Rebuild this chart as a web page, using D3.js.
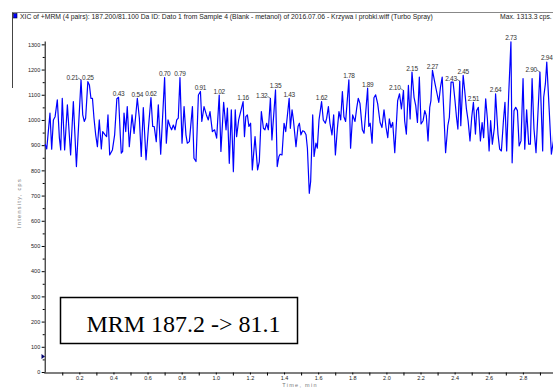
<!DOCTYPE html>
<html><head><meta charset="utf-8">
<script src="https://cdn.jsdelivr.net/npm/d3@7"></script>
<style>body{margin:0;background:#fff}svg{display:block}</style>
</head><body><svg id="c" width="553" height="388"></svg>
<script>
const titleText = "XIC of +MRM (4 pairs): 187.200/81.100 Da ID: Dato 1 from Sample 4 (Blank - metanol) of 2016.07.06 - Krzywa i probki.wiff (Turbo Spray)";
const maxText = "Max. 1313.3 cps.";
const boxText = "MRM 187.2 -> 81.1";
const yTitle = "Intensity, cps";
const xTitle = "Time, min";

const times = [
0.000,0.009,0.028,0.038,0.048,0.058,0.071,0.083,0.091,0.100,0.114,0.130,0.140,0.149,0.165,0.183,
0.21,0.220,0.229,0.237,0.25,0.259,0.268,0.277,0.286,0.296,0.306,0.317,0.329,0.337,0.351,0.360,
0.368,0.378,0.394,0.407,0.420,0.43,0.440,0.446,0.454,0.462,0.472,0.481,0.493,0.509,0.521,0.54,
0.552,0.563,0.575,0.591,0.605,0.62,0.630,0.639,0.651,0.663,0.677,0.70,0.710,0.720,0.732,0.741,
0.751,0.761,0.771,0.780,0.79,0.802,0.814,0.825,0.833,0.845,0.863,0.872,0.884,0.898,0.91,0.918,
0.931,0.945,0.956,0.966,0.980,0.993,1.005,1.02,1.030,1.046,1.060,1.068,1.079,1.091,1.103,1.114,
1.122,1.134,1.16,1.168,1.176,1.185,1.194,1.204,1.214,1.230,1.245,1.255,1.267,1.279,1.288,1.298,
1.308,1.32,1.329,1.35,1.360,1.370,1.377,1.388,1.400,1.410,1.43,1.437,1.447,1.455,1.470,1.482,
1.490,1.499,1.509,1.519,1.529,1.537,1.548,1.556,1.568,1.576,1.587,1.595,1.605,1.62,1.630,1.642,
1.650,1.660,1.669,1.681,1.691,1.701,1.712,1.722,1.732,1.742,1.751,1.761,1.78,1.790,1.802,1.816,
1.826,1.835,1.845,1.859,1.869,1.89,1.897,1.905,1.916,1.927,1.937,1.949,1.963,1.974,1.986,1.998,
2.008,2.017,2.027,2.037,2.049,2.066,2.077,2.088,2.10,2.107,2.117,2.129,2.139,2.15,2.162,2.172,
2.182,2.193,2.203,2.215,2.225,2.234,2.244,2.254,2.261,2.27,2.287,2.297,2.307,2.317,2.327,2.337,
2.347,2.360,2.369,2.379,2.391,2.402,2.411,2.419,2.43,2.436,2.45,2.459,2.469,2.479,2.490,2.500,
2.51,2.522,2.529,2.539,2.551,2.561,2.570,2.582,2.592,2.602,2.611,2.621,2.633,2.64,2.654,2.664,
2.674,2.686,2.695,2.705,2.717,2.73,2.737,2.748,2.758,2.768,2.778,2.789,2.801,2.811,2.822,2.834,
2.844,2.854,2.865,2.877,2.90,2.908,2.916,2.922,2.932,2.94,2.955,2.967,2.979,2.985,3.000
];
const intensities = [
904,885,1027,884,1000,1013,1080,930,881,1086,881,1060,954,861,1073,815,
1159,1020,994,1007,1152,1139,1086,1086,1007,941,894,1000,885,954,941,934,
1020,861,881,941,1084,1090,941,868,875,1027,954,1053,894,1020,947,1086,
1007,855,1049,842,967,1089,974,974,914,1060,864,1168,908,1000,974,961,
980,961,1000,1007,1168,908,1053,941,908,914,1053,848,835,1099,1113,994,
1053,1020,1000,1033,954,961,928,1099,875,1070,961,1047,828,1040,795,1040,
934,1000,1073,934,1013,1020,974,987,802,934,802,835,1033,967,961,987,
961,1086,921,1119,815,855,864,861,987,954,1086,967,1040,1000,894,974,
987,941,957,954,941,888,709,756,1020,855,908,888,1000,1073,1000,987,
1007,1053,987,941,1020,861,961,1033,1000,1113,1013,994,1159,888,1020,994,
1047,1086,1066,961,947,1126,974,987,908,1088,1100,1064,990,970,1040,970,
930,1004,970,990,870,1077,1104,1044,1117,997,944,1137,1004,1190,1090,1057,
990,1170,984,997,1037,1017,917,1050,1077,1197,1137,1104,1070,1130,1170,1024,
870,977,1010,1150,1150,1077,1010,964,1154,977,1177,1117,1044,997,917,1010,
1070,944,1037,1050,917,990,930,1084,1004,877,997,904,970,1104,944,884,
877,997,1070,877,1104,1310,830,1037,1050,1037,897,917,1164,884,1040,904,
904,1164,964,870,1190,1037,877,1090,1144,1230,1030,864,917,1097,1000
];
const peakLabels = ["0.21","0.25","0.43","0.54","0.62","0.70","0.79","0.91","1.02","1.16","1.32","1.35","1.43","1.62","1.78","1.89","2.10","2.15","2.27","2.43","2.45","2.51","2.64","2.73","2.90","2.94"];
const leaderLabels = ["0.21","1.32","2.10","2.43","2.90"];
const yTickValues = [0,100,200,300,400,500,600,700,800,900,1000,1100,1200,1300];
const yMinorValues = [50,150,250,350,450,550,650,750,850,950,1050,1150,1250];
const xTickLabels = ["0.2","0.4","0.6","0.8","1.0","1.2","1.4","1.6","1.8","2.0","2.2","2.4","2.6","2.8"];
const xMinorLabels = ["0.1","0.3","0.5","0.7","0.9","1.1","1.3","1.5","1.7","1.9","2.1","2.3","2.5","2.7","2.9"];

const data = times.map((t,i)=>({t, v:intensities[i]}));
const svg = d3.select("#c");
const sans = "'Liberation Sans', Arial, sans-serif";
const x = d3.scaleLinear().domain([0,3]).range([45.2,557]);
const y = d3.scaleLinear().domain([0,1313.3]).range([372,41]);

// header
svg.append("line").attr("x1",12).attr("x2",553).attr("y1",12.5).attr("y2",12.5).attr("stroke","#888").attr("stroke-width",1);
svg.append("line").attr("x1",12.5).attr("x2",12.5).attr("y1",12.5).attr("y2",88).attr("stroke","#444").attr("stroke-width",1);
svg.append("rect").attr("x",13.5).attr("y",13.5).attr("width",3.5).attr("height",4.5).attr("fill","#0000ff").attr("stroke","#000033").attr("stroke-width",0.6);
svg.append("text").attr("x",20).attr("y",19).attr("font-family",sans).attr("font-size",6.8).attr("fill","#222").text(titleText);
svg.append("text").attr("x",500).attr("y",19).attr("font-family",sans).attr("font-size",6.8).attr("fill","#222").text(maxText);

// axes
const yAxis = svg.append("g").attr("transform","translate(44.7,0)")
  .call(d3.axisLeft(y).tickValues(yTickValues).tickSize(3).tickSizeOuter(0).tickPadding(1.5).tickFormat(d3.format("d")));
yAxis.select(".domain").attr("stroke","#000").attr("stroke-width",1);
yAxis.selectAll("text").attr("font-family",sans).attr("font-size",5.5).attr("fill","#222");
svg.append("g").attr("transform","translate(44.7,0)")
  .call(d3.axisLeft(y).tickValues(yMinorValues).tickSize(2).tickFormat(""))
  .select(".domain").remove();

const xAxis = svg.append("g").attr("transform","translate(0,372.5)")
  .call(d3.axisBottom(x).tickValues(xTickLabels.map(Number)).tickSize(2).tickSizeOuter(0).tickPadding(2).tickFormat((d,i)=>xTickLabels[i]));
xAxis.select(".domain").attr("stroke","#000").attr("stroke-width",1.2).attr("d","M44.2,0.5H553");
xAxis.selectAll("text").attr("font-family",sans).attr("font-size",5.5).attr("fill","#222");
svg.append("g").attr("transform","translate(0,372.5)")
  .call(d3.axisBottom(x).tickValues(xMinorLabels.map(Number)).tickSize(3).tickFormat(""))
  .select(".domain").remove();

svg.append("text").attr("transform","translate(21,203) rotate(-90)").attr("text-anchor","middle")
  .attr("font-family",sans).attr("font-size",5.5).attr("letter-spacing",1.3).attr("fill","#777").text(yTitle);
svg.append("text").attr("x",300).attr("y",387).attr("text-anchor","middle")
  .attr("font-family",sans).attr("font-size",5.5).attr("letter-spacing",1.3).attr("fill","#777").text(xTitle);

// marker
svg.append("path").attr("d","M41.5,354 L45,356.5 L41.5,359 Z").attr("fill","#00006e");

// trace
svg.append("path").datum(data)
  .attr("d", d3.line().x(d=>x(d.t)).y(d=>y(d.v)))
  .attr("fill","none").attr("stroke","#0000ff").attr("stroke-width",1.2).attr("stroke-linejoin","round");

// peak labels
peakLabels.forEach(lbl=>{
  const tv = +lbl;
  const p = data.find(d=>Math.abs(d.t-tv)<0.0005);
  if(!p) return;
  const px = x(p.t), py = y(p.v);
  if(leaderLabels.includes(lbl)){
    svg.append("text").attr("x",px-3).attr("y",py).attr("text-anchor","end")
      .attr("font-family",sans).attr("font-size",6.5).attr("letter-spacing",-0.3).attr("fill","#333").text(lbl);
    svg.append("line").attr("x1",px-3).attr("y1",py-2).attr("x2",px).attr("y2",py)
      .attr("stroke","#333").attr("stroke-width",0.6);
  } else {
    svg.append("text").attr("x",px).attr("y",py-1.5).attr("text-anchor","middle")
      .attr("font-family",sans).attr("font-size",6.5).attr("letter-spacing",-0.3).attr("fill","#333").text(lbl);
  }
});

// annotation box
svg.append("rect").attr("x",60.5).attr("y",297.5).attr("width",237).attr("height",46)
  .attr("fill","#fff").attr("stroke","#000").attr("stroke-width",1.5);
svg.append("text").attr("x",183.5).attr("y",331.5).attr("text-anchor","middle")
  .attr("font-family","'Liberation Serif','Times New Roman',serif").attr("font-size",24).attr("fill","#000").text(boxText);
</script></body></html>
